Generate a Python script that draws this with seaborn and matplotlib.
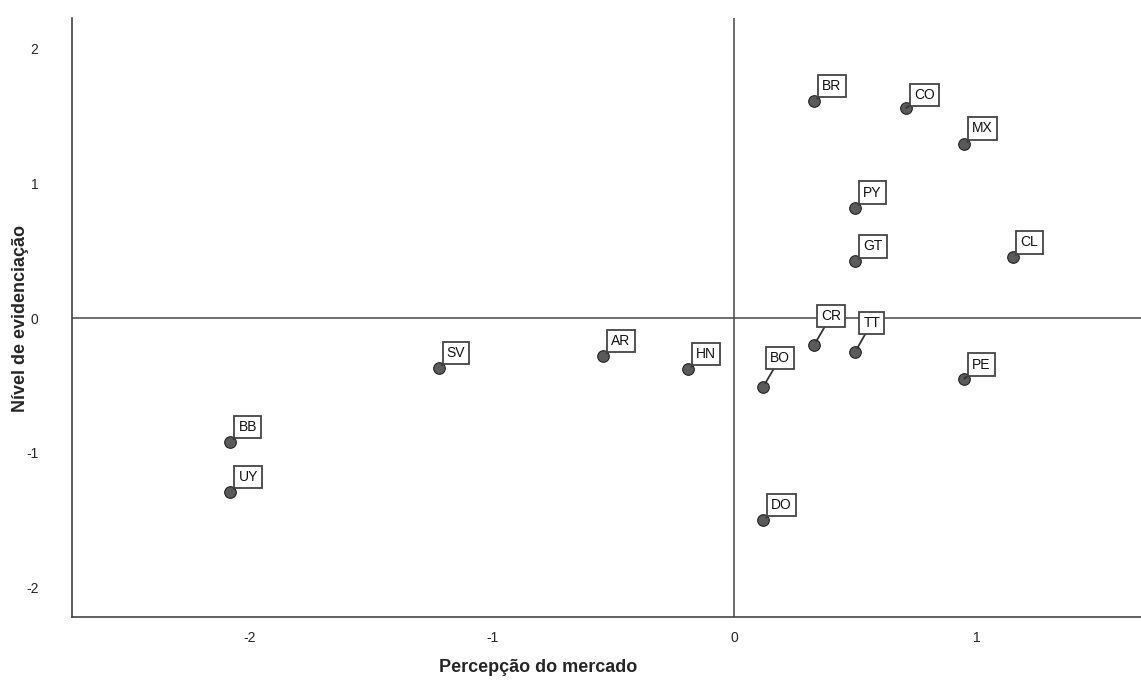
import numpy as np
import pandas as pd
import seaborn as sns
import matplotlib.pyplot as plt

paises = ["BR", "CO", "MX", "PY", "GT", "CL", "CR", "TT", "PE", "BO",
          "HN", "AR", "SV", "BB", "UY", "DO"]
percepcao = [0.33, 0.71, 0.95, 0.50, 0.50, 1.15, 0.33, 0.50, 0.95, 0.12,
             -0.19, -0.54, -1.22, -2.08, -2.08, 0.12]
evidenciacao = [1.61, 1.56, 1.29, 0.82, 0.42, 0.45, -0.20, -0.25, -0.45, -0.51,
                -0.38, -0.28, -0.37, -0.92, -1.29, -1.50]
# label offsets in pixels (leader lines for the ones near the zero line)
offset_x = [4, 4, 4, 4, 4, 4, 3, 4, 4, 3, 4, 4, 4, 4, 4, 4]
offset_y = [4, 2, 5, 4, 4, 4, 18, 18, 3, 18, 4, 4, 4, 4, 4, 4]

df = pd.DataFrame({"pais": paises, "x": percepcao, "y": evidenciacao})

sns.set_style("white")
plt.rcParams["font.family"] = ["Liberation Sans", "DejaVu Sans"]
plt.rcParams["axes.unicode_minus"] = False

fig = plt.figure(figsize=(11.41, 6.84), dpi=100)
ax = fig.add_axes([0.063, 0.098, 0.937, 0.876])

ax.axhline(0, color="#555555", lw=1.2, zorder=1)
ax.axvline(0, color="#555555", lw=1.2, zorder=1)

sns.scatterplot(data=df, x="x", y="y", ax=ax, s=70, color="#5a5a5a",
                edgecolor="#222222", linewidth=0.8, zorder=3)

for i, row in df.iterrows():
    ax.annotate(row["pais"], (row["x"], row["y"]),
                xytext=(offset_x[i] + 4, offset_y[i] + 4), textcoords="offset pixels",
                ha="left", va="bottom", fontsize=10, color="#111111",
                bbox=dict(boxstyle="square,pad=0.3", fc="white", ec="#444444", lw=1.3),
                arrowprops=dict(arrowstyle="-", color="#333333", lw=1.3,
                                shrinkA=0, shrinkB=3),
                zorder=4)

ax.set_xlim(-2.735, 1.68)
ax.set_ylim(-2.22, 2.23)
ax.set_xticks([-2, -1, 0, 1])
ax.set_yticks([-2, -1, 0, 1, 2])
ax.tick_params(length=0, labelsize=10, pad=10)
ax.tick_params(axis="y", pad=24)
sns.despine(ax=ax, top=True, right=True)
for s in ["left", "bottom"]:
    ax.spines[s].set_color("#444444")
    ax.spines[s].set_linewidth(1.2)

ax.set_xlabel("")
ax.set_ylabel("")
fig.text(0.472, 0.024, "Percepção do mercado", fontsize=13, fontweight="bold",
         ha="center", va="center")
fig.text(0.018, 0.535, "Nível de evidenciação", fontsize=13, fontweight="bold",
         ha="center", va="center", rotation=90)

fig.savefig("out.png", dpi=100)
